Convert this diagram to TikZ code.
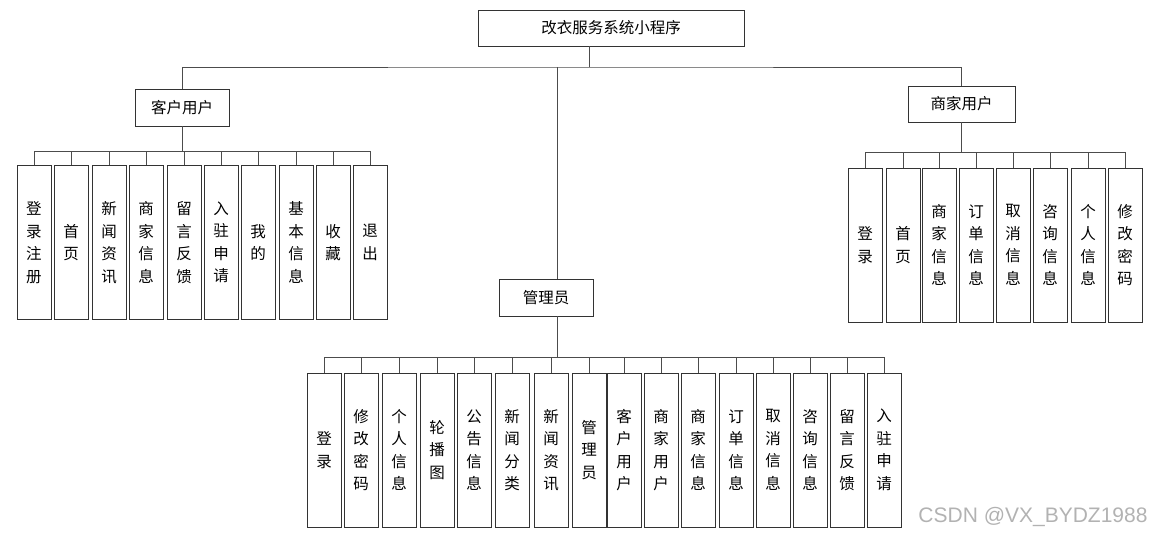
\documentclass[tikz,border=0pt]{standalone}
\usepackage{fontspec}
\setmainfont{Noto Sans CJK SC}
\newfontfamily\wmfont{Liberation Sans}
\begin{document}
\begin{tikzpicture}[x=1pt,y=-1pt,
  box/.style={draw=black!80,line width=0.9pt,fill=white,inner sep=0pt,font=\fontsize{15.5}{22.5}\selectfont,align=center},
  topbox/.style={box},
  leaf/.style={box,minimum width=34pt,minimum height=154pt},
  conn/.style={draw=black!70,line width=0.9pt}]
\useasboundingbox (0,0) rectangle (1152,538);
% top-level
\node[topbox,minimum width=266pt,minimum height=36pt] (root) at (611,28) {改衣服务系统小程序};
\node[topbox,minimum width=94pt,minimum height=37pt] (cu) at (182,107.5) {客户用户};
\node[topbox,minimum width=107pt,minimum height=36pt] (mu) at (961.5,104) {商家用户};
\node[topbox,minimum width=94pt,minimum height=37pt] (adm) at (546,297.5) {管理员};
\coordinate (tbar) at (589,67);
\coordinate (admx) at (557,67);
\draw[conn] (root.south -| tbar) -- (tbar);
\draw[conn] (cu.north) |- (tbar) -- (mu.north |- tbar) -- (mu.north);
\draw[conn] (admx) -- (admx |- adm.north);
% client children
\coordinate (cbar) at (182,151);
\foreach \x/\t [count=\i] in {34/{登\\录\\注\\册},71/{首\\页},109/{新\\闻\\资\\讯},146/{商\\家\\信\\息},184/{留\\言\\反\\馈},221/{入\\驻\\申\\请},258/{我\\的},296/{基\\本\\信\\息},333/{收\\藏},370/{退\\出}}
  {\node[leaf] (c\i) at (\x,242.5) {\t};
   \draw[conn] (c\i.north) -- (c\i.north |- cbar);}
\draw[conn] (cu.south) -- (cu.south |- cbar);
\draw[conn] (c1.north |- cbar) -- (c10.north |- cbar);
% merchant children
\coordinate (mbar) at (961,152);
\foreach \x/\t [count=\i] in {865/{登\\录},903/{首\\页},939/{商\\家\\信\\息},976/{订\\单\\信\\息},1013/{取\\消\\信\\息},1050/{咨\\询\\信\\息},1088/{个\\人\\信\\息},1125/{修\\改\\密\\码}}
  {\node[leaf] (m\i) at (\x,245) {\t};
   \draw[conn] (m\i.north) -- (m\i.north |- mbar);}
\draw[conn] (mu.south) -- (mu.south |- mbar);
\draw[conn] (m1.north |- mbar) -- (m8.north |- mbar);
% admin children
\coordinate (abar) at (557,357);
\foreach \x/\t [count=\i] in {324/{登\\录},361/{修\\改\\密\\码},399/{个\\人\\信\\息},437/{轮\\播\\图},474/{公\\告\\信\\息},512/{新\\闻\\分\\类},551/{新\\闻\\资\\讯},589/{管\\理\\员},624/{客\\户\\用\\户},661/{商\\家\\用\\户},698/{商\\家\\信\\息},736/{订\\单\\信\\息},773/{取\\消\\信\\息},810/{咨\\询\\信\\息},847/{留\\言\\反\\馈},884/{入\\驻\\申\\请}}
  {\node[leaf] (a\i) at (\x,450) {\t};
   \draw[conn] (a\i.north) -- (a\i.north |- abar);}
\draw[conn] (adm.south -| abar) -- (abar);
\draw[conn] (a1.north |- abar) -- (a16.north |- abar);
% watermark
\node[text=black!30,font=\wmfont\fontsize{21}{24}\selectfont,inner sep=0pt] (wm) at (1033,517) {CSDN @VX\_BYDZ1988};
\end{tikzpicture}
\end{document}
